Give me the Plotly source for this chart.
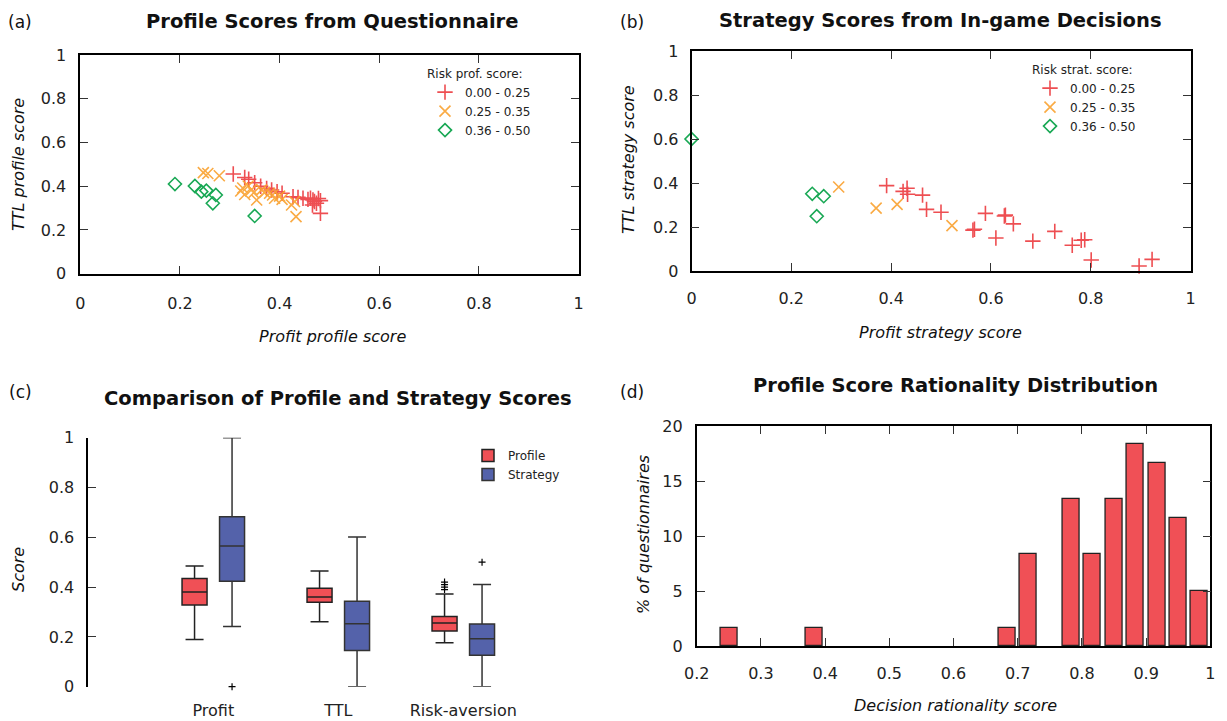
import plotly.graph_objects as go

# page body has an 8px margin: the figure is drawn 8px smaller and positions are shifted
PAGE_W, PAGE_H = 1227, 721
OFF_PX = 8
W, H = PAGE_W - OFF_PX, PAGE_H - OFF_PX
FONT = "DejaVu Sans"

# ---------------- data ----------------
# (a) Profile scores from questionnaire
a_low_x = [0.307, 0.330, 0.338, 0.350, 0.362, 0.374, 0.384, 0.395, 0.405, 0.427, 0.437,
           0.447, 0.457, 0.462, 0.467, 0.470, 0.474, 0.482, 0.466, 0.482, 0.478]
a_low_y = [0.456, 0.440, 0.432, 0.416, 0.400, 0.390, 0.383, 0.375, 0.368, 0.352, 0.349,
           0.345, 0.340, 0.345, 0.337, 0.330, 0.322, 0.334, 0.314, 0.276, 0.344]
a_mid_x = [0.247, 0.256, 0.279, 0.322, 0.330, 0.337, 0.344, 0.354, 0.364, 0.370, 0.380,
           0.390, 0.400, 0.386, 0.405, 0.424, 0.430, 0.433, 0.326, 0.348]
a_mid_y = [0.462, 0.458, 0.448, 0.378, 0.362, 0.401, 0.385, 0.337, 0.383, 0.372, 0.368,
           0.345, 0.355, 0.360, 0.340, 0.314, 0.330, 0.261, 0.392, 0.370]
a_high_x = [0.190, 0.230, 0.243, 0.253, 0.272, 0.266, 0.350]
a_high_y = [0.410, 0.401, 0.375, 0.380, 0.360, 0.322, 0.264]

# (b) Strategy scores from in-game decisions
b_low_x = [0.391, 0.424, 0.432, 0.433, 0.463, 0.471, 0.500, 0.564, 0.567, 0.589, 0.610,
           0.627, 0.629, 0.645, 0.684, 0.728, 0.763, 0.788, 0.781, 0.801, 0.897, 0.923]
b_low_y = [0.388, 0.362, 0.376, 0.349, 0.345, 0.280, 0.267, 0.186, 0.190, 0.262, 0.150,
           0.250, 0.254, 0.214, 0.136, 0.180, 0.117, 0.142, 0.140, 0.050, 0.023, 0.053]
b_mid_x = [0.295, 0.370, 0.412, 0.522]
b_mid_y = [0.382, 0.286, 0.303, 0.206]
b_high_x = [0.000, 0.242, 0.265, 0.251]
b_high_y = [0.600, 0.351, 0.340, 0.249]

risk_labels = ["0.00 - 0.25", "0.25 - 0.35", "0.36 - 0.50"]

# (c) Comparison box plots
box_categories = ["Profit", "TTL", "Risk-aversion"]
profile_lower = [0.190, 0.261, 0.177]
profile_q1 = [0.328, 0.339, 0.224]
profile_median = [0.380, 0.360, 0.256]
profile_q3 = [0.435, 0.395, 0.282]
profile_upper = [0.485, 0.465, 0.372]
strategy_lower = [0.242, 0.000, 0.000]
strategy_q1 = [0.423, 0.145, 0.126]
strategy_median = [0.565, 0.253, 0.193]
strategy_q3 = [0.683, 0.343, 0.252]
strategy_upper = [1.000, 0.601, 0.410]
profile_outlier_cat = [2, 2, 2, 2]
profile_outlier_val = [0.390, 0.400, 0.410, 0.420]
strategy_outlier_cat = [0, 2]
strategy_outlier_val = [0.000, 0.500]

# (d) Rationality distribution
rationality_bins = [0.25, 0.3833, 0.6833, 0.7167, 0.7833, 0.8167, 0.85, 0.8833, 0.9167, 0.95, 0.9833]
rationality_pct = [1.67, 1.67, 1.67, 8.33, 13.33, 8.33, 13.33, 18.33, 16.67, 11.67, 5.0]
bin_width = 1 / 30

# ---------------- styles ----------------
RED = "rgb(236,48,52)"
ORANGE = "rgb(250,162,48)"
GREEN = "rgb(24,168,84)"
BOX_RED = "rgb(240,80,86)"
BOX_BLUE = "rgb(84,98,170)"


def fx(p):
    return (p - OFF_PX) / W


def fy(p):
    return 1 - (p - OFF_PX) / H


fig = go.Figure()


def add_scatter_set(xs, ys, xa, ya, legend):
    specs = [
        (xs[0], ys[0], risk_labels[0], dict(symbol="cross-thin", size=11, color=RED,
                                            line=dict(width=1.6, color=RED)), 0.85),
        (xs[1], ys[1], risk_labels[1], dict(symbol="x-thin", size=11, color=ORANGE,
                                            line=dict(width=1.6, color=ORANGE)), 0.9),
        (xs[2], ys[2], risk_labels[2], dict(symbol="diamond-open", size=10, color=GREEN,
                                            line=dict(width=1.6, color=GREEN)), 1.0),
    ]
    for x, y, name, mk, op in specs:
        fig.add_trace(go.Scatter(x=x, y=y, mode="markers", name=name, marker=mk, opacity=op,
                                 xaxis=xa, yaxis=ya, legend=legend, cliponaxis=False))


add_scatter_set([a_low_x, a_mid_x, a_high_x], [a_low_y, a_mid_y, a_high_y], "x", "y", "legend")
add_scatter_set([b_low_x, b_mid_x, b_high_x], [b_low_y, b_mid_y, b_high_y], "x2", "y2", "legend2")

# (c) boxes
cat_pos = list(range(len(box_categories)))
OFF = 0.15
fig.add_trace(go.Box(
    x=[c - OFF for c in cat_pos], q1=profile_q1, median=profile_median, q3=profile_q3,
    lowerfence=profile_lower, upperfence=profile_upper, width=0.2, whiskerwidth=0.72,
    fillcolor=BOX_RED, line=dict(color="#222", width=1.5), name="Profile",
    boxpoints=False, xaxis="x3", yaxis="y3", legend="legend3"))
fig.add_trace(go.Box(
    x=[c + OFF for c in cat_pos], q1=strategy_q1, median=strategy_median, q3=strategy_q3,
    lowerfence=strategy_lower, upperfence=strategy_upper, width=0.2, whiskerwidth=0.72,
    fillcolor=BOX_BLUE, line=dict(color="#333", width=1.5), name="Strategy",
    boxpoints=False, xaxis="x3", yaxis="y3", legend="legend3"))
fig.add_trace(go.Scatter(
    x=[cat_pos[c] - OFF for c in profile_outlier_cat], y=profile_outlier_val, mode="markers",
    marker=dict(symbol="cross-thin", size=5, line=dict(width=1.2, color="black")),
    showlegend=False, xaxis="x3", yaxis="y3", cliponaxis=False))
fig.add_trace(go.Scatter(
    x=[cat_pos[c] + OFF for c in strategy_outlier_cat], y=strategy_outlier_val, mode="markers",
    marker=dict(symbol="cross-thin", size=5, line=dict(width=1.2, color="black")),
    showlegend=False, xaxis="x3", yaxis="y3", cliponaxis=False))

# (d) histogram
fig.add_trace(go.Bar(
    x=rationality_bins, y=rationality_pct, width=bin_width * 0.8,
    marker=dict(color=BOX_RED, line=dict(color="#222", width=1.3)),
    showlegend=False, xaxis="x4", yaxis="y4"))

tickfont = dict(family=FONT, size=16, color="#222")
base = dict(showline=True, linecolor="black", linewidth=1.6, mirror="ticks", ticks="inside",
            ticklen=8, tickwidth=1.3, tickcolor="#333", showgrid=False, zeroline=False,
            tickfont=tickfont, automargin=False)

fig.update_layout(
    width=W, height=H, margin=dict(l=0, r=0, t=0, b=0, autoexpand=False),
    plot_bgcolor="white", paper_bgcolor="white",
    font=dict(family=FONT, size=16, color="#222"),
    boxmode="overlay", bargap=0,
    xaxis=dict(base, domain=[fx(80.3), fx(578.5)], range=[0, 1], dtick=0.2, anchor="y",
               ticklabelstandoff=14),
    yaxis=dict(base, domain=[fy(273.7), fy(55)], range=[0, 1], dtick=0.2, anchor="x",
               ticklabelstandoff=9),
    xaxis2=dict(base, domain=[fx(691.5), fx(1190.5)], range=[0, 1], dtick=0.2, anchor="y2",
                ticklabelstandoff=12),
    yaxis2=dict(base, domain=[fy(271), fy(51)], range=[0, 1], dtick=0.2, anchor="x2",
                ticklabelstandoff=8),
    xaxis3=dict(domain=[fx(88.3), fx(588.3)], range=[-1, 3], tickvals=cat_pos,
                ticktext=box_categories, showline=False, ticks="", showgrid=False,
                zeroline=False, tickfont=tickfont, anchor="y3", ticklabelstandoff=12,
                automargin=False),
    yaxis3=dict(base, mirror=False, domain=[fy(686.7), fy(437.7)], range=[0, 1], dtick=0.2,
                anchor="x3", ticklabelstandoff=9),
    xaxis4=dict(base, domain=[fx(696.7), fx(1210.3)], range=[0.2, 1.0], dtick=0.1,
                anchor="y4", ticklabelstandoff=12),
    yaxis4=dict(base, domain=[fy(646), fy(426)], range=[0, 20], dtick=5, anchor="x4",
                ticklabelstandoff=9),
    legend=dict(x=fx(425), y=fy(62), xanchor="left", yanchor="top", bgcolor="rgba(0,0,0,0)",
                tracegroupgap=0, font=dict(family=FONT, size=12, color="#222"),
                title=dict(text="Risk prof. score:", font=dict(family=FONT, size=12))),
    legend2=dict(x=fx(1030), y=fy(58), xanchor="left", yanchor="top", bgcolor="rgba(0,0,0,0)",
                 tracegroupgap=0, font=dict(family=FONT, size=12, color="#222"),
                 title=dict(text="Risk strat. score:", font=dict(family=FONT, size=12))),
    legend3=dict(x=fx(468), y=fy(441), xanchor="left", yanchor="top", bgcolor="rgba(0,0,0,0)",
                 tracegroupgap=0, font=dict(family=FONT, size=12, color="#222")),
)

ann = []


def text(px, py, s, size=16, bold=False, italic=False, angle=0, xanchor="center"):
    if bold:
        s = "<b>" + s + "</b>"
    if italic:
        s = "<i>" + s + "</i>"
    ann.append(dict(x=fx(px), y=fy(py), xref="paper", yref="paper", text=s, showarrow=False,
                    xanchor=xanchor, yanchor="middle", textangle=angle,
                    font=dict(family=FONT, size=size, color="#111")))


text(332, 22, "Profile Scores from Questionnaire", size=19.5, bold=True)
text(940, 20, "Strategy Scores from In-game Decisions", size=19.5, bold=True)
text(338, 398, "Comparison of Profile and Strategy Scores", size=19.5, bold=True)
text(955, 385, "Profile Score Rationality Distribution", size=19.5, bold=True)
text(20, 22, "(a)", size=17)
text(632, 22, "(b)", size=17)
text(20, 392, "(c)", size=17)
text(632, 392, "(d)", size=17)
text(18, 165, "TTL profile score", italic=True, angle=-90)
text(332, 336, "Profit profile score", italic=True)
text(628, 160, "TTL strategy score", italic=True, angle=-90)
text(940, 332, "Profit strategy score", italic=True)
text(18, 570, "Score", italic=True, angle=-90)
text(643, 535, "% of questionnaires", italic=True, angle=-90)
text(955, 705, "Decision rationality score", italic=True)

fig.update_layout(annotations=ann)
fig.write_html("out.html")
